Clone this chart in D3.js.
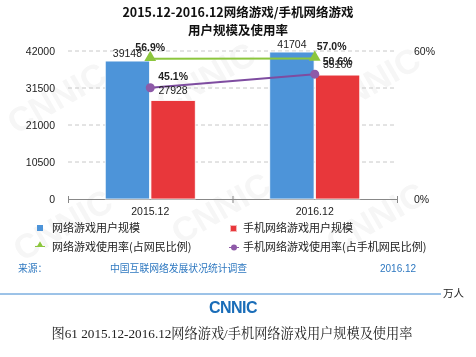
<!DOCTYPE html>
<html><head><meta charset="utf-8">
<script src="https://cdn.jsdelivr.net/npm/d3@7"></script>
<style>body{margin:0;background:#fff}svg{display:block}</style>
</head><body>
<svg id="c" width="476" height="357"></svg>
<script>
const categories = ["2015.12", "2016.12"];
const gameUsers = [39148, 41704];
const mobileGameUsers = [27928, 35166];
const gameRate = [56.9, 57.0];
const mobileGameRate = [45.1, 50.6];
const leftTicks = [0, 10500, 21000, 31500, 42000];
const rightTicks = [0, 60];
const seriesNames = ["网络游戏用户规模", "手机网络游戏用户规模", "网络游戏使用率(占网民比例)", "手机网络游戏使用率(占手机网民比例)"];

const svg = d3.select("#c");
const font = "'Liberation Sans', Arial, 'Noto Sans CJK SC', sans-serif";
const cjk = "'Noto Sans CJK SC', sans-serif";

// faint watermark
const wm = svg.append("g").attr("opacity", 0.05).attr("pointer-events", "none");
const wmPos = [[16,135],[165,115],[330,120],[22,262],[180,245],[335,255]];
wmPos.forEach(p => wm.append("text").attr("x", p[0]).attr("y", p[1])
  .attr("transform", `rotate(-30,${p[0]},${p[1]})`).attr("font-family", font)
  .attr("font-weight", "bold").attr("font-size", 34).attr("fill", "#444").text("CNNIC"));

const x0 = d3.scaleBand().domain(categories).range([68, 397]);
const x1 = d3.scaleBand().domain([0, 1]).range([-45, 45]).paddingInner(0.03);
const y = d3.scaleLinear().domain([0, 42000]).range([199, 51]);
const yr = d3.scaleLinear().domain([0, 60]).range([199, 51]);

// title
svg.append("text").attr("x", 238).attr("y", 17).attr("text-anchor", "middle")
  .attr("font-family", cjk).attr("font-weight", "bold").attr("font-size", 12.5).attr("fill", "#111")
  .text("2015.12-2016.12网络游戏/手机网络游戏");
svg.append("text").attr("x", 238).attr("y", 35).attr("text-anchor", "middle")
  .attr("font-family", cjk).attr("font-weight", "bold").attr("font-size", 12.5).attr("fill", "#111")
  .text("用户规模及使用率");

// grid
svg.append("g").selectAll("line").data(leftTicks.filter(d => d > 0)).join("line")
  .attr("x1", 68).attr("x2", 397).attr("y1", d => y(d)).attr("y2", d => y(d))
  .attr("stroke", "#c8c8c8").attr("stroke-dasharray", "4,3");

// left axis labels
const la = d3.axisLeft(y).tickValues(leftTicks).tickSize(0).tickPadding(13).tickFormat(d3.format("d"));
const gl = svg.append("g").attr("transform", "translate(68,0)").call(la);
gl.select(".domain").remove();
gl.selectAll("text").attr("font-family", font).attr("font-size", 10.5).attr("fill", "#222");

const ra = d3.axisRight(yr).tickValues(rightTicks).tickSize(0).tickPadding(17).tickFormat(d => d + "%");
const gr = svg.append("g").attr("transform", "translate(397,0)").call(ra);
gr.select(".domain").remove();
gr.selectAll("text").attr("font-family", font).attr("font-size", 10.5).attr("fill", "#222");

// bottom axis
const ba = d3.axisBottom(x0).tickSize(0).tickPadding(9);
const gb = svg.append("g").attr("transform", "translate(0,199)").call(ba);
gb.select(".domain").remove();
gb.selectAll("text").attr("font-family", font).attr("font-size", 10.5).attr("fill", "#222");
svg.append("line").attr("x1", 68).attr("x2", 397).attr("y1", 199.5).attr("y2", 199.5).attr("stroke", "#888");
[68, x0.range()[0] + x0.bandwidth(), 397].forEach(xx =>
  svg.append("line").attr("x1", xx + 0.5).attr("x2", xx + 0.5).attr("y1", 196).attr("y2", 203).attr("stroke", "#888"));

// bars
const bars = svg.append("g");
const cx = c => x0(c) + x0.bandwidth() / 2;
categories.forEach((c, i) => {
  [[gameUsers, "#4d94d9"], [mobileGameUsers, "#e8373b"]].forEach(([arr, col], k) => {
    bars.append("rect").attr("x", cx(c) + x1(k)).attr("width", x1.bandwidth())
      .attr("y", y(arr[i])).attr("height", 199 - y(arr[i]))
      .attr("fill", col).attr("stroke", "#fff").attr("stroke-width", 0.8);
  });
});

// lines
const lineGen = d3.line().x((d, i) => cx(categories[i])).y(d => yr(d));
svg.append("path").datum(gameRate).attr("d", lineGen).attr("fill", "none").attr("stroke", "#8cc63e").attr("stroke-width", 2);
svg.append("path").datum(mobileGameRate).attr("d", lineGen).attr("fill", "none").attr("stroke", "#7e4ca0").attr("stroke-width", 2);
gameRate.forEach((v, i) => {
  const px = cx(categories[i]), py = yr(v);
  svg.append("path").attr("d", d3.symbol(d3.symbolTriangle, 60)()).attr("transform", `translate(${px},${py - 1})`).attr("fill", "#8cc63e");
});
mobileGameRate.forEach((v, i) => {
  svg.append("circle").attr("cx", cx(categories[i])).attr("cy", yr(mobileGameRate[i])).attr("r", 4.5).attr("fill", "#8e5aa8");
});

// data labels
const lab = (t, xx, yy, anchor, bold) => svg.append("text").attr("x", xx).attr("y", yy)
  .attr("text-anchor", anchor).attr("font-family", font).attr("font-size", 10.5)
  .attr("font-weight", bold ? "bold" : "normal").attr("fill", "#222").text(t);
categories.forEach((c, i) => {
  const bx = cx(c) + x1(0) + x1.bandwidth() / 2;
  const rx = cx(c) + x1(1) + x1.bandwidth() / 2;
  lab(String(gameUsers[i]), bx, y(gameUsers[i]) - 4, "middle", false);
  lab(String(mobileGameUsers[i]), rx, y(mobileGameUsers[i]) - 7, "middle", false);
  lab(gameRate[i].toFixed(1) + "%", cx(c) + (i === 0 ? 0 : 2), yr(gameRate[i]) - 8, i === 0 ? "middle" : "start", true);
  lab(mobileGameRate[i].toFixed(1) + "%", cx(c) + 8, yr(mobileGameRate[i]) - (i === 0 ? 8 : 9), "start", true);
});

// legend
const lg = svg.append("g").attr("font-family", cjk).attr("font-size", 11).attr("fill", "#222");
lg.append("rect").attr("x", 37).attr("y", 225).attr("width", 6).attr("height", 6).attr("fill", "#4d94d9");
lg.append("rect").attr("x", 230.5).attr("y", 225.5).attr("width", 6).attr("height", 6).attr("fill", "#e8373b").attr("stroke", "#f6b7b8").attr("stroke-width", 1);
lg.append("line").attr("x1", 35).attr("x2", 45).attr("y1", 246.5).attr("y2", 246.5).attr("stroke", "#8cc63e").attr("stroke-width", 1);
lg.append("path").attr("d", d3.symbol(d3.symbolTriangle, 18)()).attr("transform", "translate(40,245)").attr("fill", "#8cc63e");
lg.append("line").attr("x1", 229).attr("x2", 239).attr("y1", 247.5).attr("y2", 247.5).attr("stroke", "#8e5aa8").attr("stroke-width", 1);
lg.append("circle").attr("cx", 234).attr("cy", 247.5).attr("r", 3).attr("fill", "#8e5aa8");
lg.append("text").attr("x", 52).attr("y", 232).text(seriesNames[0]);
lg.append("text").attr("x", 243).attr("y", 232).text(seriesNames[1]);
lg.append("text").attr("x", 52).attr("y", 251).text(seriesNames[2]);
lg.append("text").attr("x", 243).attr("y", 251).text(seriesNames[3]);

// source
const src = svg.append("g").attr("font-family", cjk).attr("font-size", 9.8).attr("fill", "#2e78c0");
src.append("text").attr("x", 18).attr("y", 272).text("来源：");
src.append("text").attr("x", 110).attr("y", 272).text("中国互联网络发展状况统计调查");
src.append("text").attr("x", 380).attr("y", 272).attr("font-family", font).attr("font-size", 10).text("2016.12");

svg.append("line").attr("x1", 0).attr("x2", 441).attr("y1", 294).attr("y2", 294).attr("stroke", "#3a86d0").attr("stroke-width", 1);
svg.append("text").attr("x", 443).attr("y", 297).attr("font-family", cjk).attr("font-size", 10.5).attr("fill", "#222").text("万人");

svg.append("text").attr("x", 233).attr("y", 313).attr("text-anchor", "middle").attr("font-family", font)
  .attr("font-weight", "bold").attr("font-size", 16).attr("fill", "#1a6db8").attr("letter-spacing", -0.5).text("CNNIC");

svg.append("text").attr("x", 232).attr("y", 338).attr("text-anchor", "middle")
  .attr("font-family", "'Liberation Serif', 'Noto Serif CJK SC', 'Noto Sans CJK SC', serif").attr("font-size", 13.2).attr("fill", "#222")
  .text("图61  2015.12-2016.12网络游戏/手机网络游戏用户规模及使用率");
</script>
</body></html>
